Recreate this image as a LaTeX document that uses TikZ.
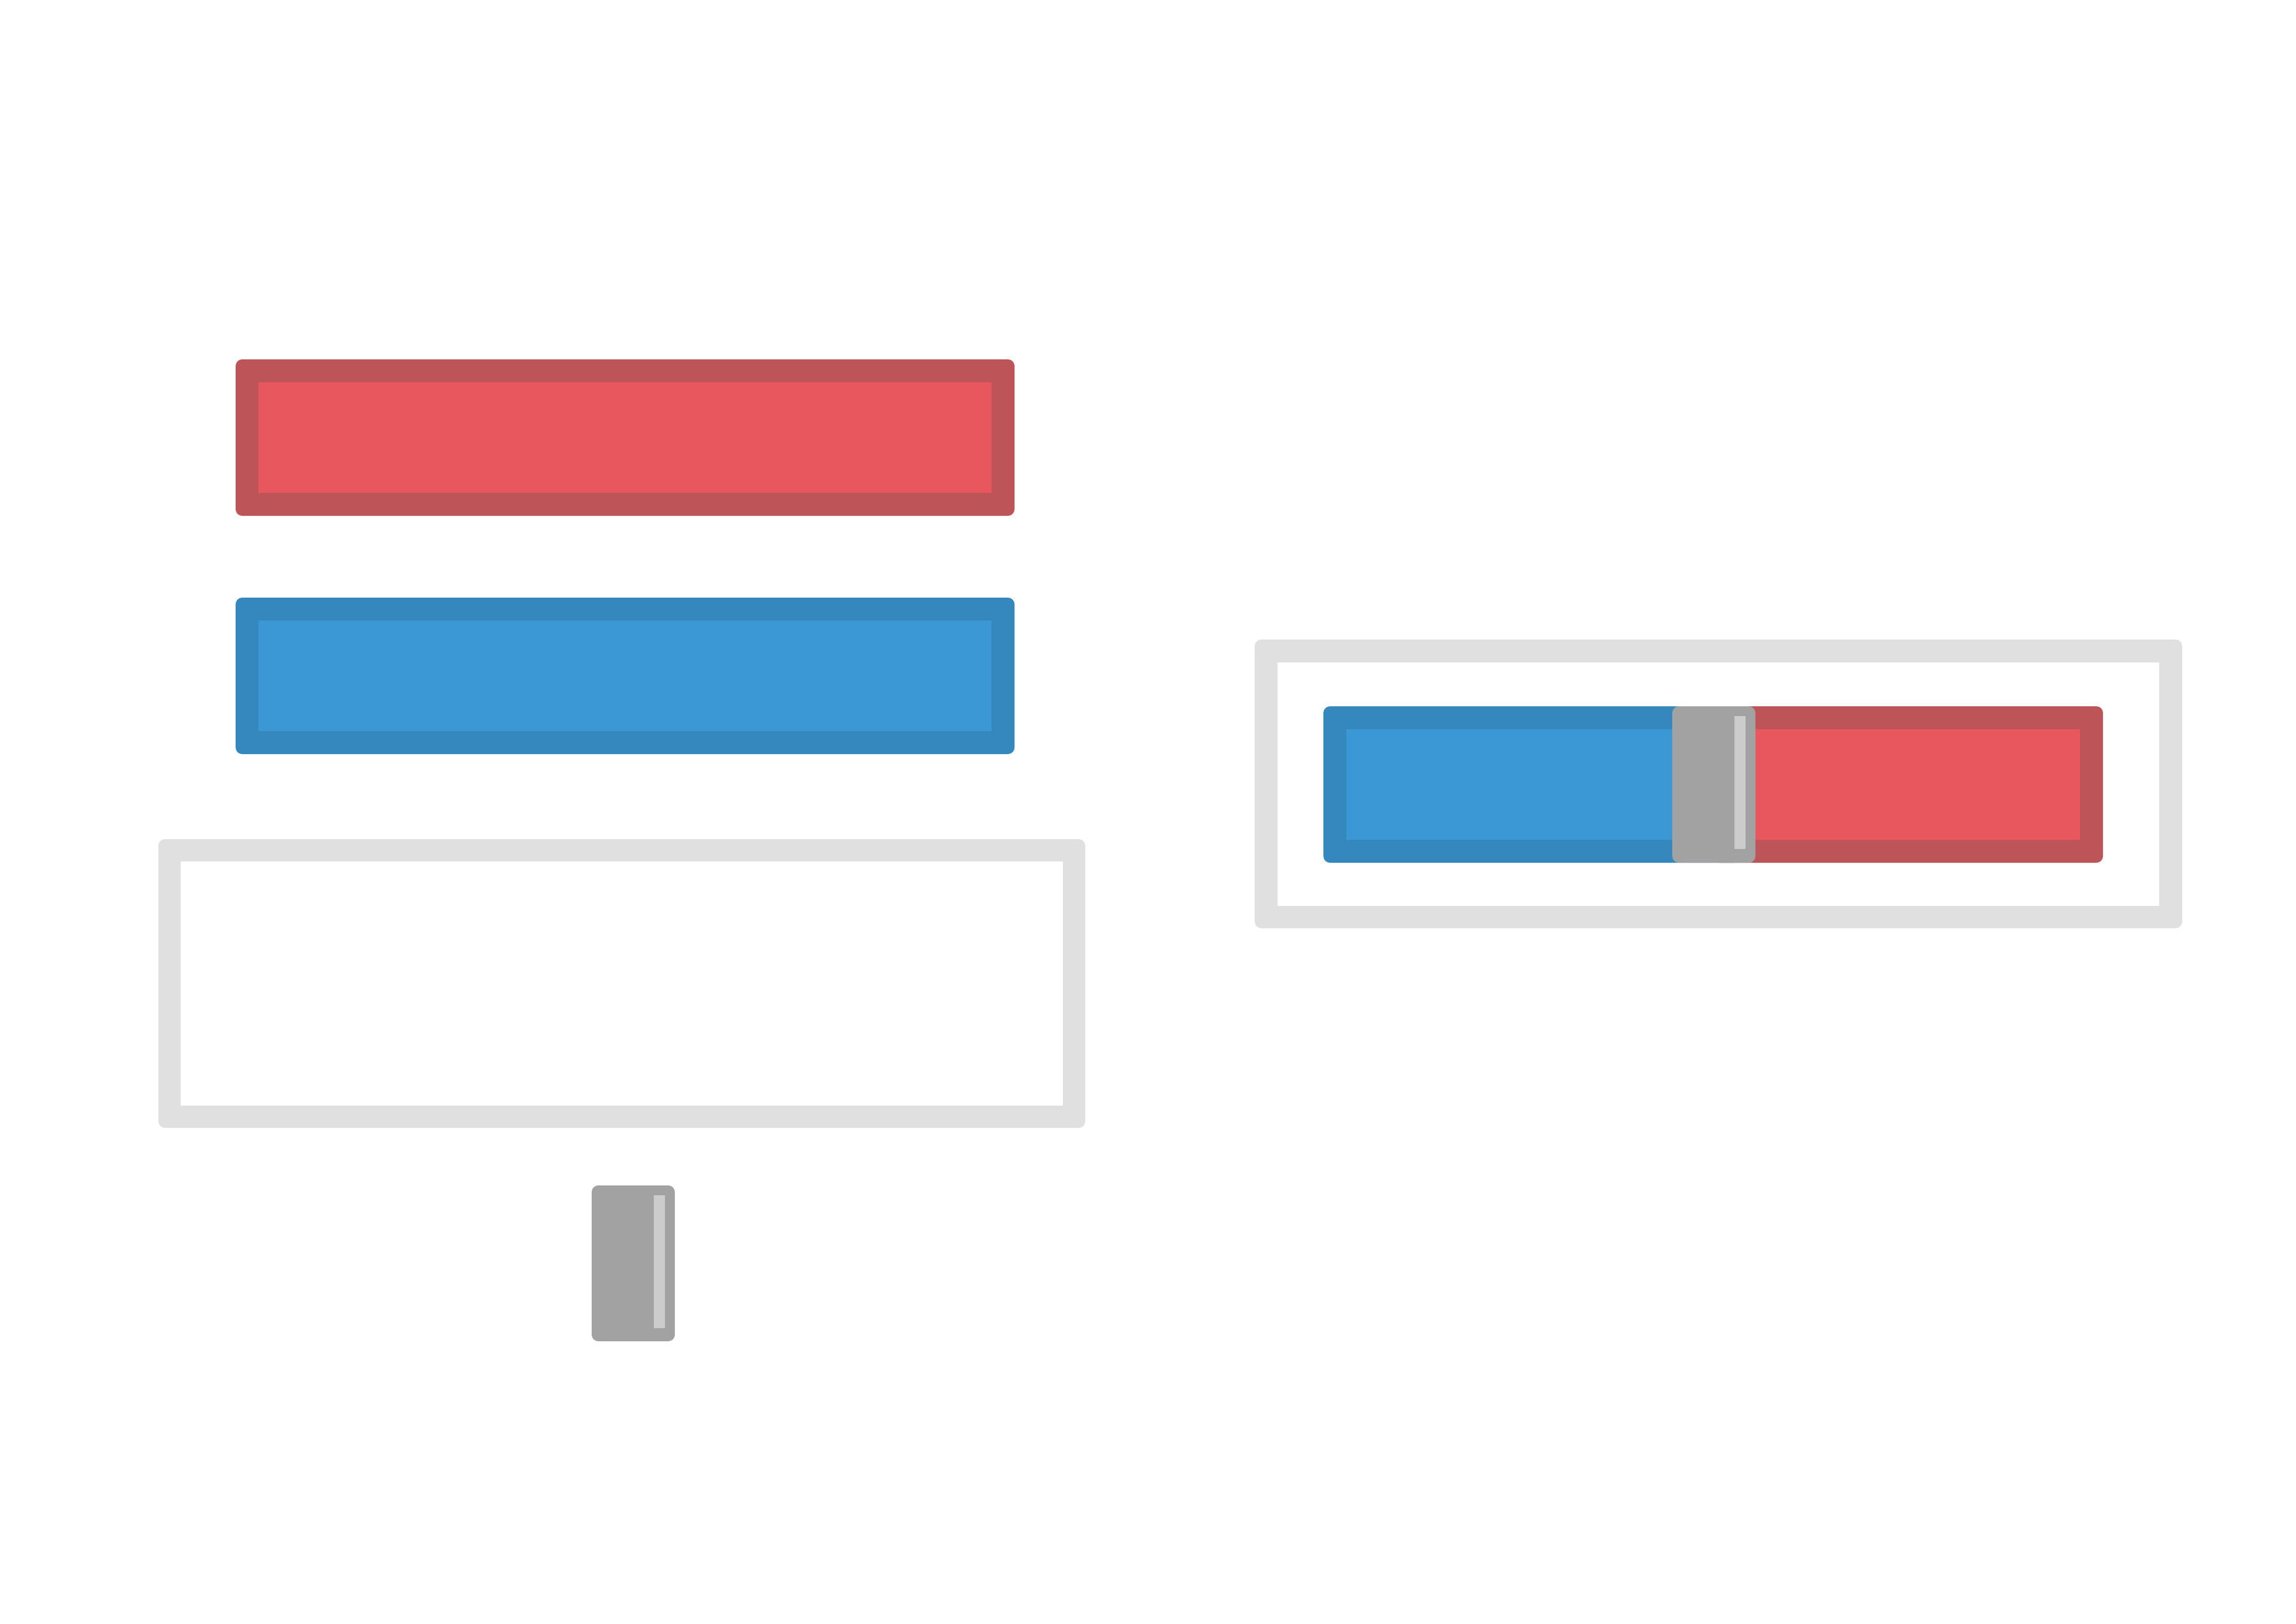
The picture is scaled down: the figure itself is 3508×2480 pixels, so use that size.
\documentclass[tikz,border=0pt]{standalone}
\usetikzlibrary{positioning}
\definecolor{RedEdge}{HTML}{BD5458}
\definecolor{RedFill}{HTML}{E8575E}
\definecolor{BlueEdge}{HTML}{3588BE}
\definecolor{BlueFill}{HTML}{3C98D5}
\definecolor{Frame}{HTML}{E0E0E0}
\definecolor{Knob}{HTML}{A2A2A2}
\definecolor{KnobLine}{HTML}{CCCCCC}
\tikzset{
  edge/.style={rounded corners=1mm},
  knob/.style={fill=Knob,rounded corners=1mm},
  grip/.style={fill=KnobLine},
}
\begin{document}
\begin{tikzpicture}[x=0.1mm,y=-0.1mm]
\fill[white] (0,0) rectangle (3508,2480);
\useasboundingbox (0,0) rectangle (3508,2480);
% left column: separate parts
\fill[RedEdge,edge] (360,549) rectangle (1550,788);
\fill[RedFill] (395,584) rectangle (1515,753);
\fill[BlueEdge,edge] (360,913) rectangle (1550,1152);
\fill[BlueFill] (395,948) rectangle (1515,1117);
\fill[Frame,edge] (242,1282) rectangle (1658,1723);
\fill[white] (276,1316) rectangle (1624,1689);
\fill[knob] (904,1811) rectangle (1031,2049);
\fill[grip] (999,1826) rectangle (1016,2029);
% right: assembled
\fill[Frame,edge] (1917,977) rectangle (3334,1418);
\fill[white] (1952,1012) rectangle (3299,1384);
\fill[BlueEdge,edge] (2022,1079) rectangle (2660,1318);
\fill[BlueFill] (2057,1114) rectangle (2618,1283);
\fill[RedEdge] (2618,1079) rectangle (2660,1318);
\fill[RedEdge,edge] (2618,1079) rectangle (3213,1318);
\fill[RedFill] (2618,1114) rectangle (3178,1283);
\fill[knob] (2555,1079) rectangle (2682,1318);
\fill[grip] (2650,1094) rectangle (2667,1297);
\end{tikzpicture}
\end{document}
